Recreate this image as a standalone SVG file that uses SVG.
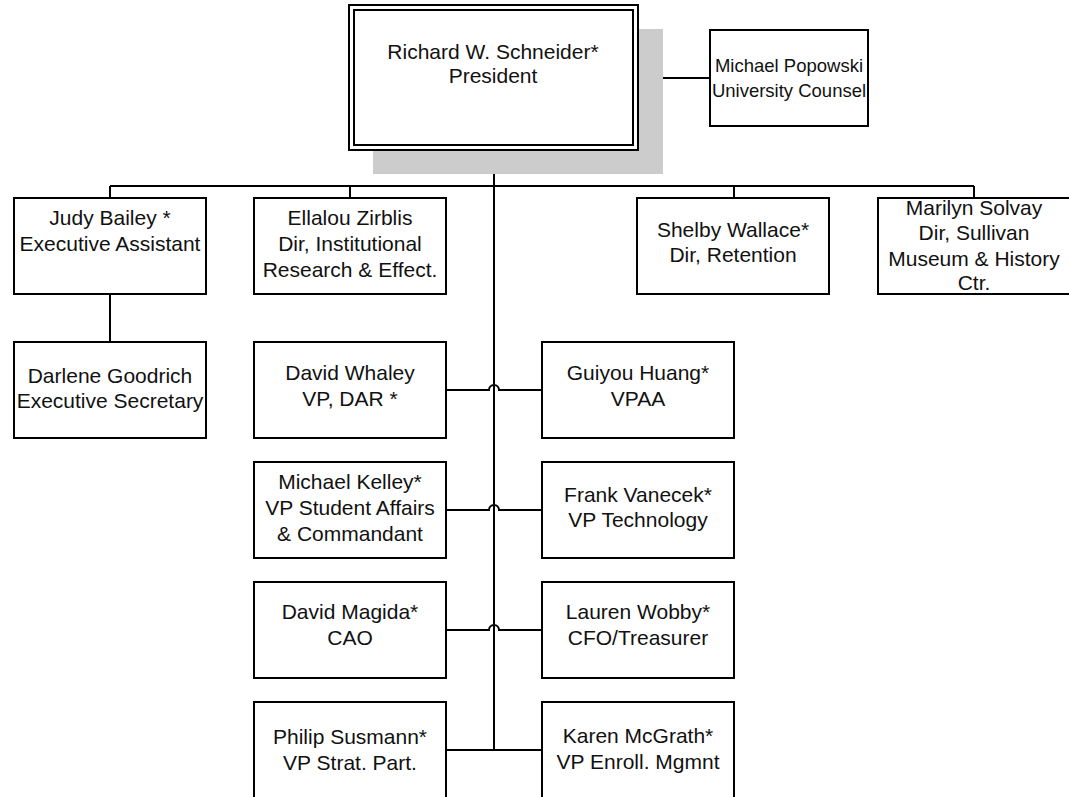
<svg xmlns="http://www.w3.org/2000/svg" width="1069" height="797" viewBox="0 0 1069 797">
<style>
.box{fill:#fff;stroke:#000;stroke-width:2}
.ln{fill:none;stroke:#000;stroke-width:2}
text{font-family:"Liberation Sans",Arial,sans-serif;font-size:21px;fill:#111;text-anchor:middle}
.sm{font-size:18.5px}
</style>
<rect width="1069" height="797" fill="#fff"/>
<g id="connectors">
<path class="ln" d="M494,150 V750"/>
<path class="ln" d="M110,186 H974 M110,186 V198 M350,186 V198 M734,186 V198 M974,186 V198"/>
<path class="ln" d="M638,78 H710"/>
<path class="ln" d="M110,294 V342"/>
<path class="ln" d="M446,390 H489 A5,5 0 0 1 499,390 H542"/>
<path class="ln" d="M446,510 H489 A5,5 0 0 1 499,510 H542"/>
<path class="ln" d="M446,630 H489 A5,5 0 0 1 499,630 H542"/>
<path class="ln" d="M446,750 H542"/>
</g>
<g id="president">
<rect x="373" y="29" width="290" height="145" fill="#cccccc"/>
<rect class="box" x="349" y="5" width="289" height="145"/>
<rect class="box" x="354" y="10" width="279" height="135"/>
<text x="493" y="59">Richard W. Schneider*</text>
<text x="493" y="83">President</text>
</g>
<g id="counsel">
<rect class="box" x="710" y="30" width="158" height="96"/>
<text class="sm" x="789" y="72">Michael Popowski</text>
<text class="sm" x="789" y="97">University Counsel</text>
</g>
<g id="judy">
<rect class="box" x="14" y="198" width="192" height="96"/>
<text x="110" y="225">Judy Bailey *</text>
<text x="110" y="251">Executive Assistant</text>
</g>
<g id="ellalou">
<rect class="box" x="254" y="198" width="192" height="96"/>
<text x="350" y="225">Ellalou Zirblis</text>
<text x="350" y="251">Dir, Institutional</text>
<text x="350" y="277">Research &amp; Effect.</text>
</g>
<g id="shelby">
<rect class="box" x="637" y="198" width="192" height="96"/>
<text x="733" y="237">Shelby Wallace*</text>
<text x="733" y="262">Dir, Retention</text>
</g>
<g id="marilyn">
<rect class="box" x="878" y="198" width="192" height="96"/>
<text x="974" y="215">Marilyn Solvay</text>
<text x="974" y="240">Dir, Sullivan</text>
<text x="974" y="266">Museum &amp; History</text>
<text x="974" y="290">Ctr.</text>
</g>
<g id="darlene">
<rect class="box" x="14" y="342" width="192" height="96"/>
<text x="110" y="383">Darlene Goodrich</text>
<text x="110" y="408">Executive Secretary</text>
</g>
<g id="whaley">
<rect class="box" x="254" y="342" width="192" height="96"/>
<text x="350" y="380">David Whaley</text>
<text x="350" y="406">VP, DAR *</text>
</g>
<g id="huang">
<rect class="box" x="542" y="342" width="192" height="96"/>
<text x="638" y="380">Guiyou Huang*</text>
<text x="638" y="406">VPAA</text>
</g>
<g id="kelley">
<rect class="box" x="254" y="462" width="192" height="96"/>
<text x="350" y="489">Michael Kelley*</text>
<text x="350" y="515">VP Student Affairs</text>
<text x="350" y="541">&amp; Commandant</text>
</g>
<g id="vanecek">
<rect class="box" x="542" y="462" width="192" height="96"/>
<text x="638" y="502">Frank Vanecek*</text>
<text x="638" y="527">VP Technology</text>
</g>
<g id="magida">
<rect class="box" x="254" y="582" width="192" height="96"/>
<text x="350" y="619">David Magida*</text>
<text x="350" y="645">CAO</text>
</g>
<g id="wobby">
<rect class="box" x="542" y="582" width="192" height="96"/>
<text x="638" y="619">Lauren Wobby*</text>
<text x="638" y="645">CFO/Treasurer</text>
</g>
<g id="susmann">
<rect class="box" x="254" y="702" width="192" height="100"/>
<text x="350" y="744">Philip Susmann*</text>
<text x="350" y="770">VP Strat. Part.</text>
</g>
<g id="mcgrath">
<rect class="box" x="542" y="702" width="192" height="100"/>
<text x="638" y="743">Karen McGrath*</text>
<text x="638" y="769">VP Enroll. Mgmnt</text>
</g>
</svg>
